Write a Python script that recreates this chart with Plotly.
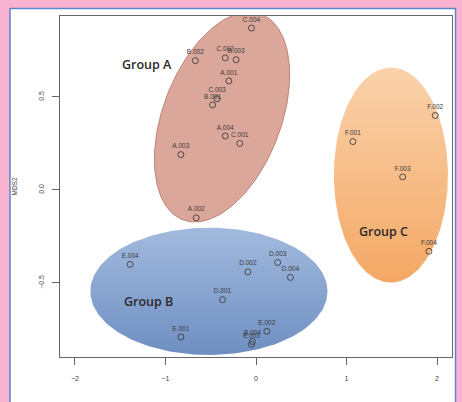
import numpy as np
import plotly.graph_objects as go

# ---- data ----
sample_names = ["A.001", "A.002", "A.003", "A.004",
                "B.001", "B.002", "B.003", "B.004",
                "C.001", "C.002", "C.003", "C.004",
                "D.001", "D.002", "D.003", "D.004",
                "E.001", "E.002", "E.003", "E.004",
                "F.001", "F.002", "F.003", "F.004"]
mds1 = [-0.30, -0.66, -0.83, -0.34,
        -0.48, -0.67, -0.22, -0.04,
        -0.18, -0.34, -0.43, -0.05,
        -0.37, -0.09, 0.24, 0.38,
        -0.83, 0.12, -0.05, -1.39,
        1.07, 1.98, 1.62, 1.91]
mds2 = [0.586, -0.15, 0.19, 0.29,
        0.457, 0.695, 0.70, -0.815,
        0.25, 0.71, 0.49, 0.87,
        -0.59, -0.44, -0.39, -0.47,
        -0.79, -0.76, -0.83, -0.40,
        0.26, 0.40, 0.07, -0.33]

x_ticks = [-2, -1, 0, 1, 2]
x_tick_labels = ["\u22122", "\u22121", "0", "1", "2"]
y_ticks = [-0.5, 0.0, 0.5]
y_tick_labels = ["\u22120.5", "0.0", "0.5"]

group_names = ["Group A", "Group B", "Group C"]
# ellipse: centre, first semi-axis vector, second semi-axis vector (data units)
group_centres = [(-0.375, 0.392), (-0.52, -0.545), (1.49, 0.08)]
group_axis_u = [(0.432, 0.553), (1.31, 0.0), (0.0, 0.578)]
group_axis_v = [(-0.61, 0.113), (0.0, 0.342), (0.63, 0.0)]
group_label_pos = [(-1.20, 0.672), (-1.19, -0.602), (1.41, -0.226)]

fig = go.Figure()

t = np.linspace(0, 2 * np.pi, 200)
fills = [
    dict(fillcolor="#dca79b", line=dict(color="#b07266", width=0.8), grad=None),
    dict(fillcolor="#86a4cf", line=dict(color="rgba(0,0,0,0)", width=0),
         grad=dict(type="vertical", colorscale=[[0, "#6f8fc2"], [1, "#a2badd"]])),
    dict(fillcolor="#f6bb87", line=dict(color="rgba(0,0,0,0)", width=0),
         grad=dict(type="vertical", colorscale=[[0, "#f4a865"], [1, "#fad2ac"]])),
]
for i, name in enumerate(group_names):
    cx, cy = group_centres[i]
    ux, uy = group_axis_u[i]
    vx, vy = group_axis_v[i]
    ex = cx + ux * np.cos(t) + vx * np.sin(t)
    ey = cy + uy * np.cos(t) + vy * np.sin(t)
    kw = dict(x=ex, y=ey, mode="lines", fill="toself",
              fillcolor=fills[i]["fillcolor"], line=fills[i]["line"],
              hoverinfo="skip", showlegend=False)
    if fills[i]["grad"] is not None:
        kw["fillgradient"] = fills[i]["grad"]
    fig.add_trace(go.Scatter(**kw))

fig.add_trace(go.Scatter(
    x=mds1, y=mds2, mode="markers+text", text=sample_names,
    textposition="top center",
    textfont=dict(size=6.5, color="#3a3a3a", family="Liberation Sans"),
    marker=dict(symbol="circle-open", size=6, color="#3d3d3d", line=dict(width=0.9)),
    showlegend=False, cliponaxis=False))

for i, name in enumerate(group_names):
    fig.add_annotation(x=group_label_pos[i][0], y=group_label_pos[i][1], text=name,
                       showarrow=False, xref="x", yref="y",
                       font=dict(size=12.5, color="#2a2a2a", family="Open Sans", weight=600))

# white panel with blue border on pink background
fig.add_shape(type="rect", xref="paper", yref="paper",
              x0=(10 - 60) / 392, x1=(455.5 - 60) / 392,
              y0=-0.16, y1=(357 - 8.5) / 341,
              fillcolor="white", line=dict(color="#5b86cc", width=1.5), layer="below")

fig.add_annotation(x=(14 - 60) / 392, y=0.5, xref="paper", yref="paper", text="MDS2",
                   textangle=-90, showarrow=False, xanchor="center",
                   font=dict(size=6.5, color="#444", family="Liberation Sans"))

axis_common = dict(showgrid=False, zeroline=False, showline=True, mirror=True,
                   linecolor="#666", linewidth=1, ticks="outside", ticklen=7,
                   tickcolor="#666", tickwidth=1,
                   tickfont=dict(size=7, color="#444", family="Liberation Sans"))
fig.update_xaxes(range=[-2.165, 2.165], tickmode="array", tickvals=x_ticks,
                 ticktext=x_tick_labels, ticklabelstandoff=8, **axis_common)
fig.update_yaxes(range=[-0.898, 0.935], tickmode="array", tickvals=y_ticks,
                 ticktext=y_tick_labels, tickangle=-90, ticklabelstandoff=5, **axis_common)

fig.update_layout(width=462, height=402,
                  margin=dict(l=60, r=10, t=16, b=45),
                  paper_bgcolor="#f9b3d0", plot_bgcolor="white")

fig.write_html("out.html", config={"displayModeBar": False},
               post_script="document.body.style.margin='0';document.body.style.overflow='hidden';"
                           "document.documentElement.style.overflow='hidden';")
